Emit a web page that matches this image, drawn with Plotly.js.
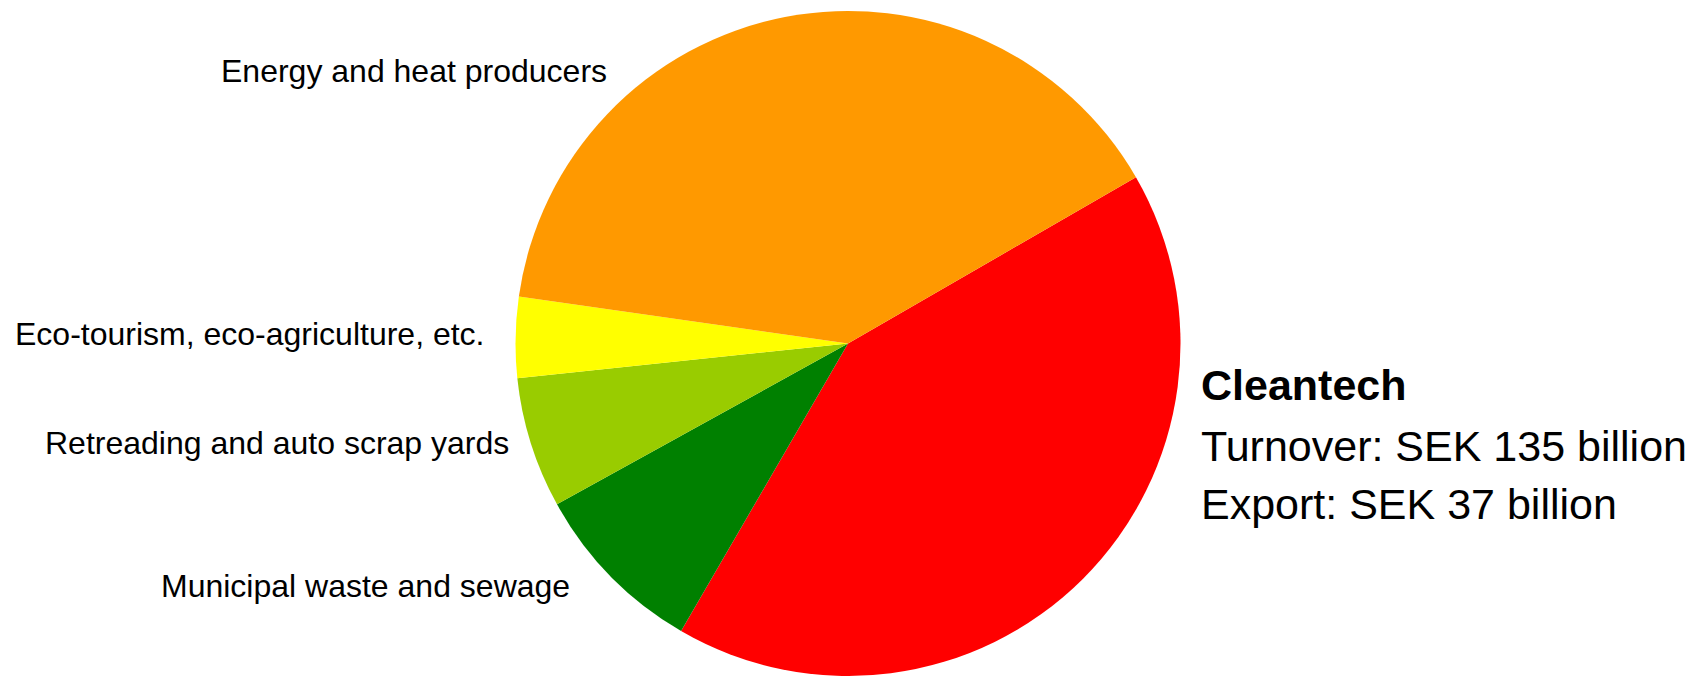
<!DOCTYPE html>
<html>
<head>
<meta charset="utf-8">
<script src="https://cdn.plot.ly/plotly-3.0.1.min.js"></script>
<style>html,body{margin:0;padding:0;background:#fff;}#chart{width:1693px;height:676px;}</style>
</head>
<body>
<div id="chart"></div>
<script>
// Sector shares, SEK billion (total ≈ 135)
const categories = ["Cleantech", "Municipal waste and sewage", "Retreading and auto scrap yards", "Eco-tourism, eco-agriculture, etc.", "Energy and heat producers"];
const values = [56.3, 11.6, 8.6, 5.3, 53.2];
const colors = ["#FF0000", "#008000", "#99CC00", "#FFFF00", "#FF9900"];
const summaryTitle = "Cleantech";
const summaryLines = ["Turnover: SEK 135 billion", "Export: SEK 37 billion"];

const W = 1693, H = 676;
const px = x => x / W;
const py = y => 1 - y / H;

const trace = {
  type: "pie",
  labels: categories,
  values: values,
  sort: false,
  direction: "clockwise",
  rotation: 60,
  marker: {colors: colors, line: {width: 0}},
  textinfo: "none",
  hoverinfo: "label+value",
  showlegend: false,
  domain: {x: [px(848 - 333), px(848 + 333)], y: [py(677), py(11)]}
};

const labelFont = {family: "Liberation Sans, Arial, sans-serif", size: 32, color: "#000"};
const bigFont = {family: "Liberation Sans, Arial, sans-serif", size: 43, color: "#000"};

const labelPos = [
  null,
  {x: 159, y: 586},
  {x: 43, y: 443},
  {x: 13, y: 334},
  {x: 219, y: 71}
];

const annotations = [];
categories.forEach((c, i) => {
  if (!labelPos[i]) return;
  annotations.push({
    text: c, xref: "paper", yref: "paper",
    x: px(labelPos[i].x), y: py(labelPos[i].y),
    xanchor: "left", yanchor: "middle", showarrow: false, font: labelFont
  });
});
annotations.push({
  text: "<b>" + summaryTitle + "</b>", xref: "paper", yref: "paper",
  x: px(1199), y: py(385), xanchor: "left", yanchor: "middle", showarrow: false, font: bigFont
});
summaryLines.forEach((t, i) => {
  annotations.push({
    text: t, xref: "paper", yref: "paper",
    x: px(1199), y: py(446 + i * 58), xanchor: "left", yanchor: "middle", showarrow: false, font: bigFont
  });
});

const layout = {
  width: W, height: H,
  margin: {l: 0, r: 0, t: 0, b: 0},
  paper_bgcolor: "#fff",
  plot_bgcolor: "#fff",
  annotations: annotations
};

Plotly.newPlot("chart", [trace], layout, {displayModeBar: false, staticPlot: true});
</script>
</body>
</html>
